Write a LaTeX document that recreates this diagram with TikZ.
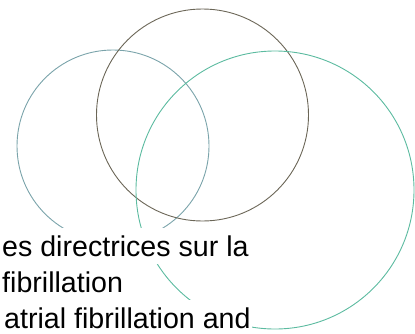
\documentclass[tikz,border=0pt]{standalone}
\usepackage{fontspec}
\setmainfont{Liberation Sans}
\definecolor{ringA}{HTML}{7AA3AA}
\definecolor{ringB}{HTML}{6B6657}
\definecolor{ringC}{HTML}{5CBBA0}
\tikzset{
  ring/.style={line width=0.9pt},
  txtline/.style={fill=white, inner xsep=1pt, inner ysep=0pt, text height=28pt, text depth=8pt, anchor=base west, font=\fontsize{28.6}{35}\selectfont}
}
\begin{document}
\begin{tikzpicture}[x=1pt,y=-1pt]
\useasboundingbox (0,0) rectangle (415,333);
\draw[ring, ringA] (113,146) circle[radius=96];
\draw[ring, ringB] (202.5,115) circle[radius=106];
\draw[ring, ringC] (275,190) circle[radius=139];
\node[txtline] (l1) at (1,256) {es directrices sur la};
\node[txtline] (l2) at (1,292) {fibrillation};
\node[txtline] (l3) at (3,328) {atrial fibrillation and};
\end{tikzpicture}
\end{document}
